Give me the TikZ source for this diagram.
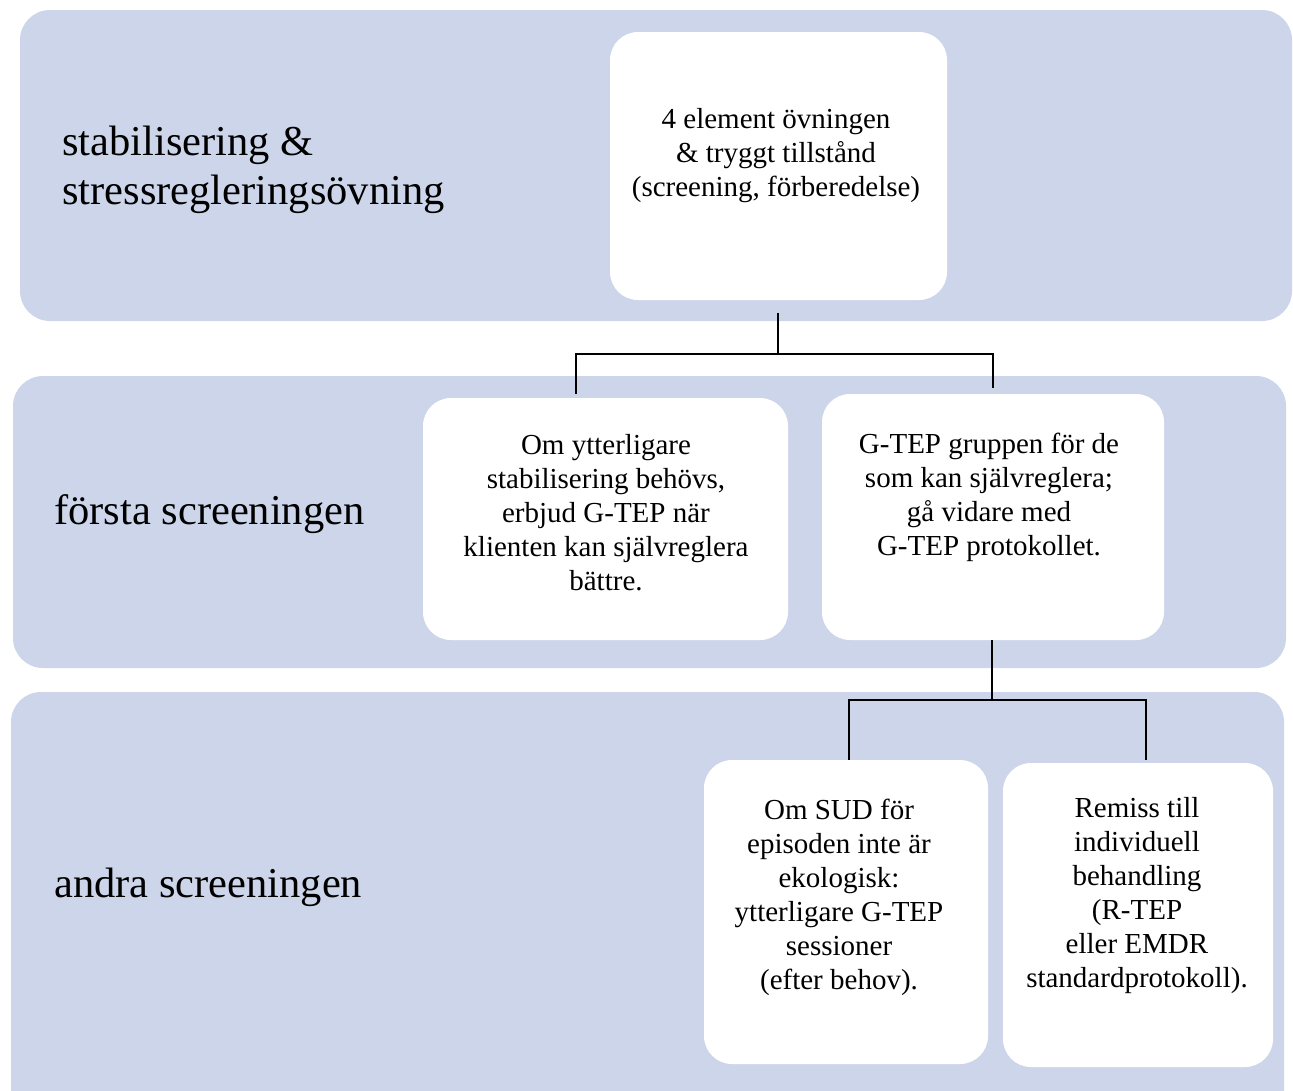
\documentclass[tikz,border=0pt]{standalone}
\usepackage{fontspec}
\setmainfont{Liberation Serif}
\definecolor{band}{RGB}{204,213,233}
\begin{document}
\begin{tikzpicture}[x=1pt,y=-1pt,
  bandbox/.style={fill=band,draw=none,rounded corners=30pt},
  whitebox/.style={fill=white,draw=none,rounded corners=28pt},
  boxtext/.style={align=center,inner sep=0pt,font=\fontsize{29}{34}\selectfont},
  lbl/.style={align=left,anchor=west,inner sep=0pt,font=\fontsize{42.5}{49}\selectfont},
  conn/.style={draw=black,line width=1.6pt}]
\useasboundingbox (0,0) rectangle (1293,1090);
\begin{scope}
\clip (0,0) rectangle (1293,1090);
% bands
\path[bandbox] (20,10) rectangle (1292,321);
\path[bandbox] (13,376) rectangle (1286,668);
\path[bandbox] (11,692) rectangle (1284,1130);
% white boxes
\path[whitebox] (610,32) rectangle (947,300);
\path[whitebox] (423,398) rectangle (788,640);
\path[whitebox] (822,394) rectangle (1164,640);
\path[whitebox] (704,760) rectangle (988,1064);
\path[whitebox] (1003,763) rectangle (1273,1067);
\end{scope}
% named nodes for boxes
\node[inner sep=0pt,minimum width=337pt,minimum height=268pt] (A) at (778.5,166) {};
\node[inner sep=0pt,minimum width=365pt,minimum height=242pt] (B) at (605.5,519) {};
\node[inner sep=0pt,minimum width=342pt,minimum height=246pt] (C) at (993,517) {};
\node[inner sep=0pt,minimum width=284pt,minimum height=304pt] (D) at (846,912) {};
\node[inner sep=0pt,minimum width=270pt,minimum height=304pt] (E) at (1138,915) {};
% texts
\node[boxtext] (tA) at (776,156) {4 element övningen\\ \& tryggt tillstånd\\ (screening, förberedelse)};
\node[boxtext] (tB) at (606,513) {Om ytterligare\\ stabilisering behövs,\\ erbjud G-TEP när\\ klienten kan självreglera\\ bättre.};
\node[boxtext] (tC) at (989,497) {G-TEP gruppen för de\\ som kan självreglera;\\ gå vidare med\\ G-TEP protokollet.};
\node[boxtext] (tD) at (839,897) {Om SUD för\\ episoden inte är\\ ekologisk:\\ ytterligare G-TEP\\ sessioner\\ (efter behov).};
\node[boxtext] (tE) at (1137,896) {Remiss till\\ individuell\\ behandling\\ (R-TEP\\ eller EMDR\\ standardprotokoll).};
% labels
\node[lbl] (L1) at (62,170) {stabilisering \&\\ stressregleringsövning};
\node[lbl] (L2) at (54,514) {första screeningen};
\node[lbl] (L3) at (54,887) {andra screeningen};
% connectors
\coordinate (a0) at (778,313);
\coordinate (a1) at (778,354);
\coordinate (bl) at (576,394);
\coordinate (br) at (993,388);
\draw[conn] (a0) -- (a1);
\draw[conn] (a1) -| (bl);
\draw[conn] (a1) -| (br);
\coordinate (c0) at (992,640);
\coordinate (c1) at (992,700);
\coordinate (dl) at (849,760);
\coordinate (dr) at (1146,760);
\draw[conn] (C.south -| c0) -- (c1);
\draw[conn] (c1) -| (dl);
\draw[conn] (c1) -| (dr);
\end{tikzpicture}
\end{document}
